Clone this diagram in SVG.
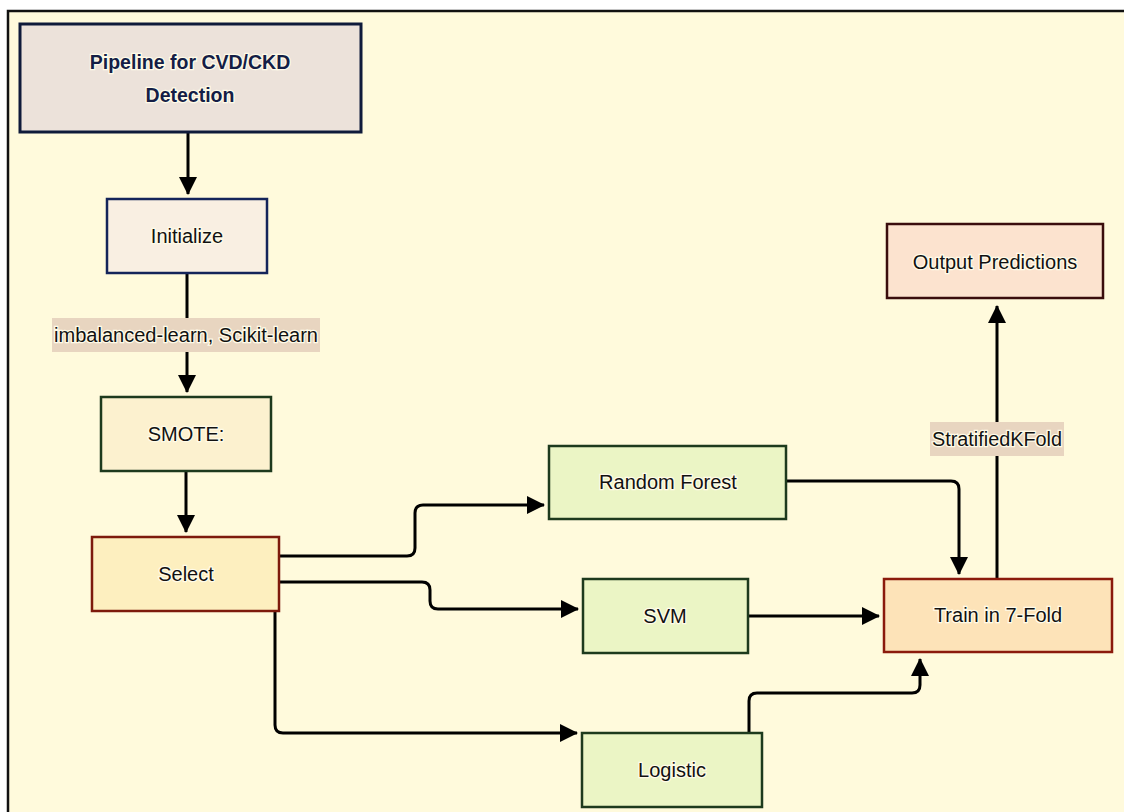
<svg xmlns="http://www.w3.org/2000/svg" width="1124" height="812" viewBox="0 0 1124 812">
<defs>
<marker id="ah" markerWidth="20" markerHeight="20" refX="17" refY="10" orient="auto" markerUnits="userSpaceOnUse">
<path d="M0,1 L18,10 L0,19 Z" fill="#000"/>
</marker>
</defs>
<style>
.t{font-family:"Liberation Sans",Arial,sans-serif;font-size:20px;fill:#111;text-anchor:middle;dominant-baseline:central;paint-order:stroke;stroke:#fffbe8;stroke-width:2.5px;}
.tb{font-weight:bold;fill:#141e46;font-size:19.5px;}
.c{fill:none;stroke:#000;stroke-width:3;marker-end:url(#ah);}
.cl{fill:none;stroke:#000;stroke-width:3;}
.lbl{fill:#e8d5c0;}
</style>
<rect x="0" y="0" width="1124" height="812" fill="#fff"/>
<rect x="8" y="11" width="1130" height="820" fill="#fffadc" stroke="#111" stroke-width="2.5"/>

<g id="connectors">
<path class="c" d="M188,132 L188,194"/>
<path class="cl" d="M187,273 L187,318"/>
<path class="c" d="M187,352 L187,392"/>
<path class="c" d="M186,471 L186,532"/>
<path class="c" d="M279,556 L407,556 Q415,556 415,548 L415,513 Q415,505 423,505 L544,505"/>
<path class="c" d="M279,582 L422,582 Q430,582 430,590 L430,601 Q430,609 438,609 L578,609"/>
<path class="c" d="M275,611 L275,725 Q275,733 283,733 L577,733"/>
<path class="c" d="M786,481 L951,481 Q959,481 959,489 L959,574"/>
<path class="c" d="M748,616 L879,616"/>
<path class="c" d="M749,733 L749,701 Q749,693 757,693 L912,693 Q920,693 920,685 L920,659"/>
<path class="cl" d="M997,579 L997,456"/>
<path class="c" d="M997,422 L997,306"/>
<rect class="lbl" x="52" y="318" width="268" height="34"/>
<text class="t" x="186" y="335" textLength="264" lengthAdjust="spacingAndGlyphs">imbalanced-learn, Scikit-learn</text>
<rect class="lbl" x="930" y="422" width="134" height="34"/>
<text class="t" x="997" y="439" textLength="130" lengthAdjust="spacingAndGlyphs">StratifiedKFold</text>
</g>

<g id="title">
<rect x="20" y="24" width="341" height="108" fill="#ece2da" stroke="#0f1a3a" stroke-width="3"/>
<text class="t tb" x="190" y="62">Pipeline for CVD/CKD</text>
<text class="t tb" x="190" y="95">Detection</text>
</g>
<g id="initialize">
<rect x="107" y="199" width="160" height="74" fill="#f9efe2" stroke="#14245a" stroke-width="2.5"/>
<text class="t" x="187" y="236">Initialize</text>
</g>
<g id="smote">
<rect x="101" y="397" width="170" height="74" fill="#fcf1cf" stroke="#1d3a1d" stroke-width="2.5"/>
<text class="t" x="186" y="434">SMOTE:</text>
</g>
<g id="select">
<rect x="92" y="537" width="187" height="74" fill="#fdefbf" stroke="#7d1a0c" stroke-width="2.5"/>
<text class="t" x="186" y="574">Select</text>
</g>
<g id="random-forest">
<rect x="549" y="446" width="237" height="73" fill="#ebf5c5" stroke="#1d3a1d" stroke-width="2.5"/>
<text class="t" x="668" y="482">Random Forest</text>
</g>
<g id="svm">
<rect x="583" y="579" width="165" height="74" fill="#ebf5c5" stroke="#1d3a1d" stroke-width="2.5"/>
<text class="t" x="665" y="616">SVM</text>
</g>
<g id="logistic">
<rect x="582" y="733" width="180" height="74" fill="#ebf5c5" stroke="#1d3a1d" stroke-width="2.5"/>
<text class="t" x="672" y="770">Logistic</text>
</g>
<g id="train">
<rect x="884" y="579" width="228" height="73" fill="#fde3b8" stroke="#8b1a0c" stroke-width="2.5"/>
<text class="t" x="998" y="615">Train in 7-Fold</text>
</g>
<g id="output">
<rect x="887" y="224" width="216" height="74" fill="#fce3cf" stroke="#3a0d0d" stroke-width="2.5"/>
<text class="t" x="995" y="262">Output Predictions</text>
</g>
</svg>
